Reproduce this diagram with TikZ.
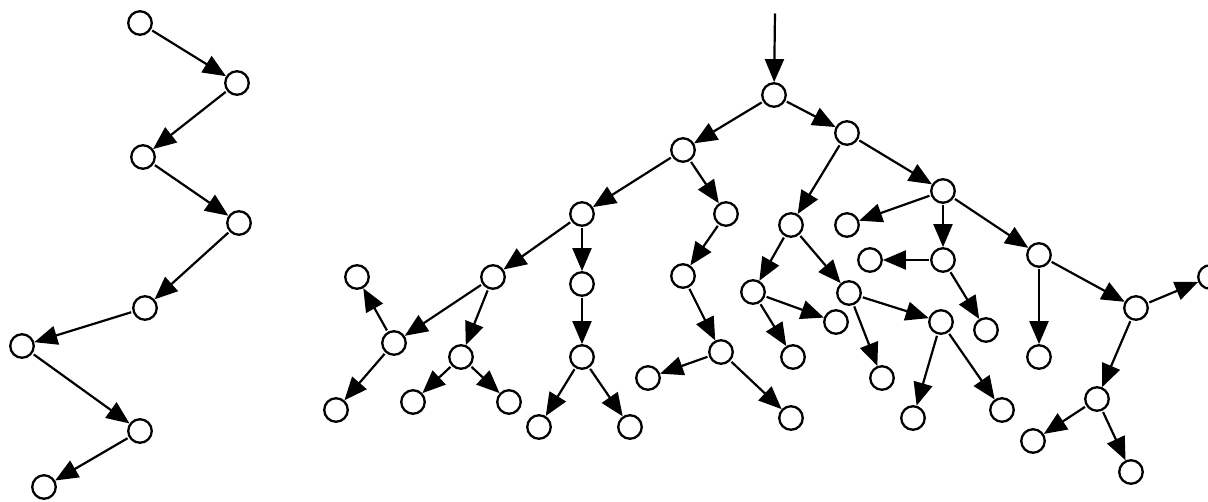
\documentclass[tikz,border=0pt]{standalone}
\usetikzlibrary{arrows.meta}
\begin{document}
\begin{tikzpicture}[x=1pt,y=-1pt,
  nd/.style={circle,draw,line width=2.3pt,minimum size=23.5pt,inner sep=0pt,fill=white},
  ar/.style={line width=2.2pt,-{Triangle[length=23pt,width=19pt]},shorten <=1.5pt}]
\useasboundingbox (0,0) rectangle (1208,502);
% left chain
\node[nd] (L1) at (140,23) {};
\node[nd] (L2) at (237,83) {};
\node[nd] (L3) at (143,157) {};
\node[nd] (L4) at (239,223) {};
\node[nd] (L5) at (145,308) {};
\node[nd] (L6) at (22,346) {};
\node[nd] (L7) at (140,431) {};
\node[nd] (L8) at (44,487) {};
\draw[ar] (L1) -- (L2);
\draw[ar] (L2) -- (L3);
\draw[ar] (L3) -- (L4);
\draw[ar] (L4) -- (L5);
\draw[ar] (L5) -- (L6);
\draw[ar] (L6) -- (L7);
\draw[ar] (L7) -- (L8);
% tree
\coordinate (top) at (775,12);
\node[nd] (R) at (774,95) {};
\node[nd] (A) at (683,150) {};
\node[nd] (B) at (847,133) {};
\node[nd] (C) at (791,225) {};
\node[nd] (D) at (943,191) {};
\node[nd] (E) at (582,214) {};
\node[nd] (F) at (726,214) {};
\node[nd] (G) at (493,277) {};
\node[nd] (H) at (582,284) {};
\node[nd] (I) at (394,343) {};
\node[nd] (J) at (461,357) {};
\node[nd] (K) at (357,277) {};
\node[nd] (M) at (336,410) {};
\node[nd] (N) at (413,402) {};
\node[nd] (O) at (509,402) {};
\node[nd] (P) at (582,357) {};
\node[nd] (Q) at (539,427) {};
\node[nd] (S) at (630,427) {};
\node[nd] (T) at (683,276) {};
\node[nd] (U) at (721,352) {};
\node[nd] (V) at (648,378) {};
\node[nd] (W) at (791,418) {};
\node[nd] (X) at (753,292) {};
\node[nd] (Y) at (849,293) {};
\node[nd] (Z) at (836,322) {};
\node[nd] (AA) at (793,357) {};
\node[nd] (BB) at (882,378) {};
\node[nd] (CC) at (941,322) {};
\node[nd] (DD) at (913,418) {};
\node[nd] (EE) at (1002,410) {};
\node[nd] (FF) at (847,225) {};
\node[nd] (GG) at (943,260) {};
\node[nd] (HH) at (1039,255) {};
\node[nd] (II) at (870,260) {};
\node[nd] (JJ) at (986,330) {};
\node[nd] (KK) at (1039,357) {};
\node[nd] (LL) at (1136,308) {};
\node[nd] (MM) at (1210,277) {};
\node[nd] (NN) at (1097,399) {};
\node[nd] (OO) at (1033,441) {};
\node[nd] (PP) at (1131,472) {};
\draw[ar] (top) -- (R);
\draw[ar] (R) -- (A);
\draw[ar] (R) -- (B);
\draw[ar] (B) -- (C);
\draw[ar] (B) -- (D);
\draw[ar] (A) -- (E);
\draw[ar] (A) -- (F);
\draw[ar] (E) -- (G);
\draw[ar] (E) -- (H);
\draw[ar] (G) -- (I);
\draw[ar] (G) -- (J);
\draw[ar] (I) -- (K);
\draw[ar] (I) -- (M);
\draw[ar] (J) -- (N);
\draw[ar] (J) -- (O);
\draw[ar] (H) -- (P);
\draw[ar] (P) -- (Q);
\draw[ar] (P) -- (S);
\draw[ar] (F) -- (T);
\draw[ar] (T) -- (U);
\draw[ar] (U) -- (V);
\draw[ar] (U) -- (W);
\draw[ar] (C) -- (X);
\draw[ar] (C) -- (Y);
\draw[ar] (X) -- (Z);
\draw[ar] (X) -- (AA);
\draw[ar] (Y) -- (BB);
\draw[ar] (Y) -- (CC);
\draw[ar] (CC) -- (DD);
\draw[ar] (CC) -- (EE);
\draw[ar] (D) -- (FF);
\draw[ar] (D) -- (GG);
\draw[ar] (D) -- (HH);
\draw[ar] (GG) -- (II);
\draw[ar] (GG) -- (JJ);
\draw[ar] (HH) -- (KK);
\draw[ar] (HH) -- (LL);
\draw[ar] (LL) -- (MM);
\draw[ar] (LL) -- (NN);
\draw[ar] (NN) -- (OO);
\draw[ar] (NN) -- (PP);
\end{tikzpicture}
\end{document}
